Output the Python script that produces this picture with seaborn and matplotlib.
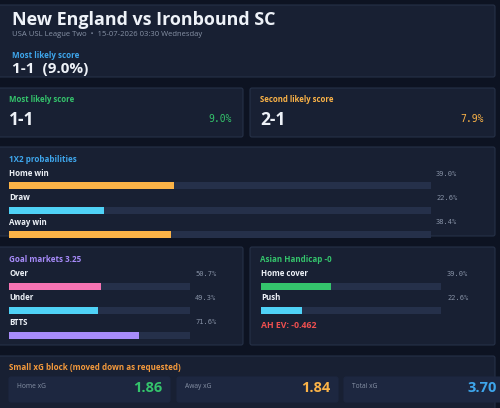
import matplotlib
matplotlib.use("Agg")
import matplotlib.pyplot as plt
from matplotlib.patches import FancyBboxPatch
import seaborn as sns

# data
match_title = "New England vs Ironbound SC"
match_sub = "USA USL League Two  \u2022  15-07-2026 03:30 Wednesday"
top_scores = ["1-1", "2-1"]
top_probs = [9.0, 7.9]

x12_labels = ["Home win", "Draw", "Away win"]
x12_values = [39.0, 22.6, 38.4]

goal_line = 3.25
goal_labels = ["Over", "Under", "BTTS"]
goal_values = [50.7, 49.3, 71.6]

ah_line = "-0"
ah_labels = ["Home cover", "Push"]
ah_values = [39.0, 22.6]
ah_ev = -0.462

xg_labels = ["Home xG", "Away xG", "Total xG"]
xg_values = [1.86, 1.84, 3.70]

# colours
BG = "#0d1322"
CARD = "#182033"
EDGE = "#263147"
TRACK = "#25304a"
SUB = "#1d2740"
WHITE = "#eef2f8"
GREY = "#8792a6"
BLUE = "#3ea6ec"
GREEN = "#34c46c"
ORANGE = "#fbb347"
CYAN = "#4fd2f7"
PINK = "#f674b3"
PURPLE = "#a78bfa"
RED = "#ef4f4f"
XGORANGE = "#f59a3c"

sns.set_theme(style="white")
plt.rcParams["font.family"] = ["Open Sans", "DejaVu Sans"]

W, H = 500, 408
fig = plt.figure(figsize=(W / 100, H / 100), dpi=100)
fig.patch.set_facecolor(BG)
ax = fig.add_axes([0, 0, 1, 1])
ax.set_xlim(0, W)
ax.set_ylim(H, 0)
ax.axis("off")
ax.set_facecolor(BG)


def card(x0, y0, x1, y1, fc=CARD, ec=EDGE):
    ax.add_patch(FancyBboxPatch((x0, y0), x1 - x0, y1 - y0,
                                boxstyle="round,pad=0,rounding_size=2",
                                fc=fc, ec=ec, lw=0.8, zorder=1))


def bars(x0, x1, centers, labels, values, colors, pct_x):
    step = centers[1] - centers[0]
    ytop = centers[0] - step / 2
    ybot = centers[-1] + step / 2
    bax = fig.add_axes([x0 / W, 1 - ybot / H, (x1 - x0) / W, (ybot - ytop) / H])
    bax.patch.set_alpha(0)
    w = 7 / step
    sns.barplot(x=[100] * len(labels), y=labels, orient="h", color=TRACK,
                saturation=1, width=w, linewidth=0, ax=bax)
    sns.barplot(x=values, y=labels, hue=labels, palette=colors, orient="h",
                saturation=1, width=w, linewidth=0, legend=False, ax=bax)
    bax.set_xlim(0, 100)
    bax.axis("off")
    for i, (lab, v) in enumerate(zip(labels, values)):
        ty = centers[i] - 12.5
        ax.text(x0, ty, lab, color=WHITE, fontsize=5.7, fontweight="bold",
                va="center", ha="left", zorder=3)
        ax.text(pct_x, ty, f"{v:.1f}%", color=GREY, fontsize=5,
                family="DejaVu Sans Mono", va="center", ha="left", zorder=3)


# header
card(-2, 5, 495, 77)
ax.text(12, 20, match_title, color=WHITE, fontsize=12.9, fontweight="bold",
        va="center", ha="left", zorder=3)
ax.text(12, 35, match_sub, color=GREY, fontsize=5.5, va="center", ha="left", zorder=3)
ax.text(12, 56, "Most likely score", color=BLUE, fontsize=5.8, fontweight="bold",
        va="center", ha="left", zorder=3)
ax.text(12, 69, f"{top_scores[0]}  ({top_probs[0]:.1f}%)", color=WHITE, fontsize=11,
        fontweight="bold", va="center", ha="left", zorder=3)

# score cards
for (x0, x1), title, sc, p, col in zip([(-2, 243), (250, 495)],
                                       ["Most likely score", "Second likely score"],
                                       top_scores, top_probs, [GREEN, ORANGE]):
    card(x0, 88, x1, 137)
    tx = 9 if x0 < 0 else x0 + 10
    ax.text(tx, 100, title, color=col, fontsize=5.6, fontweight="bold",
            va="center", ha="left", zorder=3)
    ax.text(tx, 120, sc, color=WHITE, fontsize=12.5, fontweight="bold",
            va="center", ha="left", zorder=3)
    ax.text(x1 - 11, 119, f"{p:.1f}%", color=col, fontsize=7,
            family="DejaVu Sans Mono", va="center", ha="right", zorder=3)

# 1X2
card(-2, 147, 495, 236)
ax.text(9, 160, "1X2 probabilities", color=BLUE, fontsize=5.8, fontweight="bold",
        va="center", ha="left", zorder=3)
bars(9, 431, [186, 210.5, 235], x12_labels, x12_values, [ORANGE, CYAN, ORANGE], 436)

# goal markets
card(-2, 247, 243, 345)
ax.text(9, 259, f"Goal markets {goal_line:.2f}", color=PURPLE, fontsize=5.8,
        fontweight="bold", va="center", ha="left", zorder=3)
bars(9, 190, [286, 310.5, 335], goal_labels, goal_values, [PINK, CYAN, PURPLE], 195)

# asian handicap
card(250, 247, 495, 345)
ax.text(260, 259, f"Asian Handicap {ah_line}", color=GREEN, fontsize=5.8,
        fontweight="bold", va="center", ha="left", zorder=3)
bars(261, 441, [286, 310.5], ah_labels, ah_values, [GREEN, CYAN], 447)
ax.text(261, 326, f"AH EV: {ah_ev:.3f}", color=RED, fontsize=6.3, fontweight="bold",
        va="center", ha="left", zorder=3)

# xG block
card(-2, 356, 495, 420)
ax.text(9, 368, "Small xG block (moved down as requested)", color=XGORANGE,
        fontsize=5.8, fontweight="bold", va="center", ha="left", zorder=3)
for (x0, x1), lab, v, col in zip([(9, 170), (177, 338), (344, 505)], xg_labels,
                                 xg_values, [GREEN, ORANGE, BLUE]):
    card(x0, 377, x1, 402, fc=SUB, ec=SUB)
    ax.text(x0 + 8, 386.5, lab, color=GREY, fontsize=4.8, va="center", ha="left", zorder=3)
    ax.text(x1 - 8, 388, f"{v:.2f}", color=col, fontsize=10.5, fontweight="bold",
            va="center", ha="right", zorder=3)

fig.savefig("out.png", dpi=100, facecolor=BG)
